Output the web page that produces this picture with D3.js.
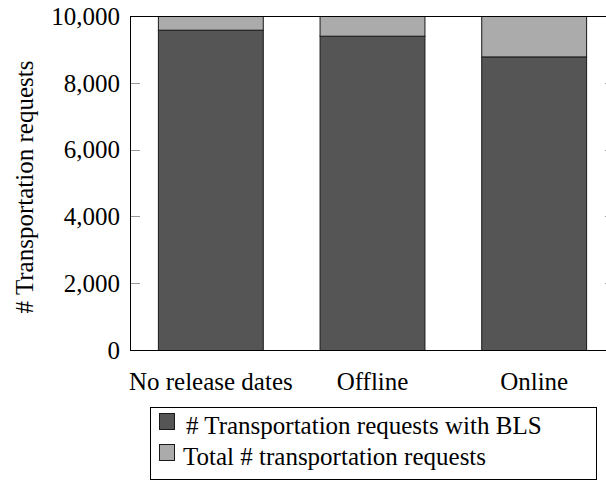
<!DOCTYPE html>
<html>
<head>
<meta charset="utf-8">
<script src="https://cdn.jsdelivr.net/npm/d3@7"></script>
<style>
  html, body { margin: 0; padding: 0; background: #fff; }
  svg { display: block; }
</style>
</head>
<body>
<svg id="chart" width="606" height="481"></svg>
<script>
// ---- data ----
const categories = ["No release dates", "Offline", "Online"];
const withBLS = [9590, 9410, 8790];
const totalRequests = [10000, 10000, 10000];
const yTicks = [0, 2000, 4000, 6000, 8000, 10000];
const seriesNames = ["# Transportation requests with BLS", "Total # transportation requests"];
const yLabel = "# Transportation requests";

// ---- layout ----
const plot = { left: 130, right: 615, top: 16, bottom: 350 };
const colors = ["#555555", "#ababab"];
const FS = 25;
const tickLen = 10;
const FONT = "'Liberation Serif', 'Times New Roman', serif";

// warm up the font so it is loaded before the SVG text is laid out
(function warm() {
  const ctx = document.createElement("canvas").getContext("2d");
  ["'Liberation Serif'", "'Times New Roman'", "serif"].forEach(f => {
    ctx.font = FS + "px " + f + ", monospace";
    ctx.measureText("No release dates # Transportation requests 10,000");
  });
})();

const svg = d3.select("#chart");

const x = d3.scaleBand()
  .domain(categories)
  .range([plot.left, plot.right])
  .paddingInner(0.345)
  .paddingOuter(0.1725);

const y = d3.scaleLinear()
  .domain([0, 10000])
  .range([plot.bottom, plot.top]);

const rows = categories.map((c, i) => ({ cat: c, bls: withBLS[i], rest: totalRequests[i] - withBLS[i] }));
const stack = d3.stack().keys(["bls", "rest"])(rows);

svg.append("clipPath").attr("id", "plotclip")
  .append("rect")
  .attr("x", plot.left).attr("y", plot.top)
  .attr("width", plot.right - plot.left).attr("height", plot.bottom - plot.top);

const barsG = svg.append("g").attr("clip-path", "url(#plotclip)");
stack.forEach((layer, li) => {
  barsG.append("g")
    .selectAll("rect")
    .data(layer)
    .join("rect")
    .attr("x", d => x(d.data.cat) + 0.5)
    .attr("width", x.bandwidth() - 1)
    .attr("y", d => y(d[1]) + 0.5)
    .attr("height", d => Math.max(0, y(d[0]) - y(d[1])))
    .attr("fill", colors[li])
    .attr("stroke", "#1a1a1a")
    .attr("stroke-width", 1);
});

const tickG = svg.append("g");
tickG.selectAll("line.l")
  .data(yTicks)
  .join("line")
  .attr("class", "l")
  .attr("x1", plot.left).attr("x2", plot.left + tickLen)
  .attr("y1", d => Math.round(y(d)) + 0.5).attr("y2", d => Math.round(y(d)) + 0.5)
  .attr("stroke", "#999").attr("stroke-width", 1);
tickG.selectAll("line.r")
  .data(yTicks)
  .join("line")
  .attr("class", "r")
  .attr("x1", plot.right - tickLen).attr("x2", plot.right)
  .attr("y1", d => Math.round(y(d)) + 0.5).attr("y2", d => Math.round(y(d)) + 0.5)
  .attr("stroke", "#999").attr("stroke-width", 1);

svg.append("rect")
  .attr("x", plot.left + 0.5).attr("y", plot.top + 0.5)
  .attr("width", plot.right - plot.left).attr("height", plot.bottom - plot.top)
  .attr("fill", "none").attr("stroke", "#000").attr("stroke-width", 1);

const yAxis = d3.axisLeft(y)
  .tickValues(yTicks)
  .tickFormat(d3.format(","))
  .tickSize(0)
  .tickPadding(10);
const yAxisG = svg.append("g")
  .attr("transform", `translate(${plot.left},0)`)
  .call(yAxis);
yAxisG.attr("font-family", FONT).attr("font-size", FS);
yAxisG.select(".domain").remove();
yAxisG.selectAll("text")
  .attr("fill", "#000")
  .attr("dy", "0.33em");

const xAxis = d3.axisBottom(x).tickSize(0).tickPadding(0);
const xAxisG = svg.append("g")
  .attr("transform", `translate(0,${plot.bottom})`)
  .call(xAxis);
xAxisG.attr("font-family", FONT).attr("font-size", FS);
xAxisG.select(".domain").remove();
xAxisG.selectAll("text")
  .attr("dy", null)
  .attr("y", 39.5)
  .attr("fill", "#000");

svg.append("text")
  .attr("class", "lbl")
  .attr("transform", `translate(33,${(plot.top + plot.bottom) / 2 + 4}) rotate(-90)`)
  .attr("text-anchor", "middle")
  .attr("font-size", FS)
  .text(yLabel);

const leg = { x: 150, y: 407, w: 446, h: 72 };
const legG = svg.append("g");
legG.append("rect")
  .attr("x", leg.x + 0.5).attr("y", leg.y + 0.5)
  .attr("width", leg.w).attr("height", leg.h)
  .attr("fill", "#fff").attr("stroke", "#000").attr("stroke-width", 1);
const items = legG.selectAll("g.item")
  .data(seriesNames)
  .join("g")
  .attr("class", "item")
  .attr("transform", (d, i) => `translate(${leg.x + 9},${leg.y + 6 + i * 31})`);
items.append("rect")
  .attr("x", 0.5).attr("y", 0.5)
  .attr("width", 15).attr("height", 16)
  .attr("fill", (d, i) => colors[i])
  .attr("stroke", "#1a1a1a").attr("stroke-width", 1);
items.append("text")
  .attr("x", (d, i) => i === 0 ? 27 : 24)
  .attr("y", 21)
  .attr("font-size", FS)
  .text(d => d);

// apply the font to every text, and again once fonts report ready
function applyFont() {
  svg.selectAll("text").attr("font-family", FONT).style("font-family", FONT);
}
applyFont();
if (document.fonts && document.fonts.ready) {
  document.fonts.ready.then(applyFont);
}
</script>
</body>
</html>
